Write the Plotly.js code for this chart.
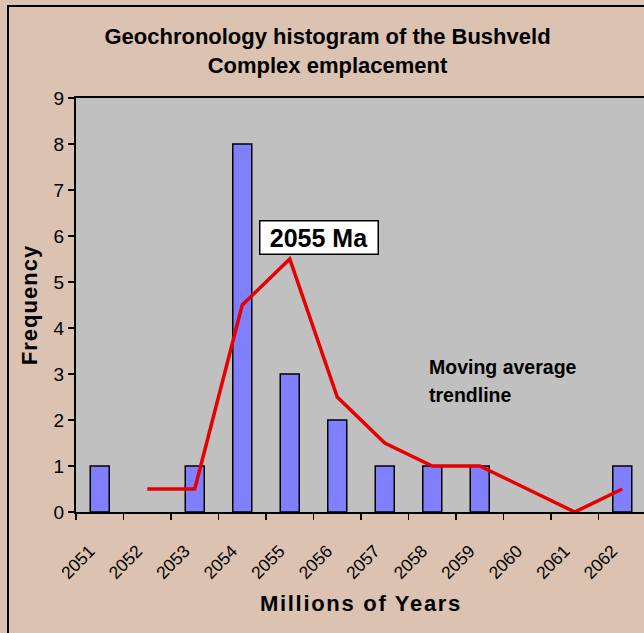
<!DOCTYPE html>
<html>
<head>
<meta charset="utf-8">
<script src="https://cdn.plot.ly/plotly-3.0.1.min.js"></script>
<style>
  html, body { margin: 0; padding: 0; overflow: hidden; background: #DCC3B1; width: 644px; height: 633px; }
  #frame { position: absolute; left: 7px; top: 5px; width: 800px; height: 800px; border: 2px solid #000; box-sizing: border-box; }
  #chart { position: absolute; left: 0; top: 0; width: 700px; height: 700px; }
  #chart .xtitle { letter-spacing: 1.7px; }
  #chart .ytitle { letter-spacing: 1px; }
</style>
</head>
<body>
<div id="frame"></div>
<div id="chart"></div>
<script>
// ---- data ----
const years = ['2051','2052','2053','2054','2055','2056','2057','2058','2059','2060','2061','2062'];
const counts = [1, 0, 1, 8, 3, 2, 1, 1, 1, 0, 0, 1];
const maYears = ['2052','2053','2054','2055','2056','2057','2058','2059','2060','2061','2062'];
const maValues = [0.5, 0.5, 4.5, 5.5, 2.5, 1.5, 1, 1, 0.5, 0, 0.5];
const yTicks = [0,1,2,3,4,5,6,7,8,9];

const FONT = 'Liberation Sans, Arial, sans-serif';
const W = 700, H = 700, ML = 76, MT = 98, PW = 570, PH = 414;
const px = x => (x - ML) / PW;
const py = y => (MT + PH - y) / PH;

const traces = [
  {
    type: 'bar', x: years, y: counts, width: 0.4,
    marker: { color: '#8080FF', line: { color: '#000', width: counts.map(c => (c > 0 ? 1.5 : 0)) } },
    hoverinfo: 'x+y', showlegend: false
  },
  {
    type: 'scatter', mode: 'lines', x: maYears, y: maValues,
    line: { color: '#E60000', width: 3.5 },
    showlegend: false
  }
];

const layout = {
  width: W, height: H,
  margin: { l: ML, r: W - ML - PW, t: MT, b: H - MT - PH },
  paper_bgcolor: 'rgba(0,0,0,0)',
  plot_bgcolor: '#C0C0C0',
  font: { family: FONT, color: '#000' },
  title: {
    text: '<b>Geochronology histogram of the Bushveld<br>Complex emplacement</b>',
    font: { size: 22, family: FONT, color: '#000' },
    xref: 'container', x: 327.5 / W, xanchor: 'center',
    yref: 'container', y: 1 - 44 / H, yanchor: 'top'
  },
  xaxis: {
    type: 'category', range: [-0.5, 11.5],
    categoryorder: 'array', categoryarray: years,
    showline: true, linecolor: '#000', linewidth: 2, mirror: true,
    layer: 'above traces',
    ticks: 'outside', tickson: 'boundaries', ticklen: 6, tickwidth: 1.5, tickcolor: '#000',
    tickangle: -45, tickfont: { size: 17.5, family: FONT, color: '#000' },
    ticklabelstandoff: 20, ticklabelshift: -10,
    showgrid: false, zeroline: false,
    title: { text: '<b>Millions of Years</b>', font: { size: 22, family: FONT, color: '#000' }, standoff: 14 }
  },
  yaxis: {
    range: [0, 9], tickvals: yTicks,
    showline: true, linecolor: '#000', linewidth: 2, mirror: true,
    ticks: 'outside', ticklen: 6, tickwidth: 1.5, tickcolor: '#000',
    tickfont: { size: 19, family: FONT, color: '#000' },
    showgrid: false, zeroline: false,
    title: { text: '<b>Frequency</b>', font: { size: 22, family: FONT, color: '#000' }, standoff: 10 }
  },
  annotations: [
    {
      xref: 'paper', yref: 'paper', x: px(318.5), y: py(238),
      xanchor: 'center', yanchor: 'middle', showarrow: false,
      text: '<b>2055 Ma</b>', font: { size: 25, family: FONT, color: '#000' },
      bgcolor: '#FFFFFF', bordercolor: '#000', borderwidth: 1.5, borderpad: 1,
      width: 115, height: 30
    },
    {
      xref: 'paper', yref: 'paper', x: px(427), y: py(367),
      xanchor: 'left', yanchor: 'middle', showarrow: false,
      text: '<b>Moving average</b>', font: { size: 19.5, family: FONT, color: '#000' }
    },
    {
      xref: 'paper', yref: 'paper', x: px(427), y: py(395),
      xanchor: 'left', yanchor: 'middle', showarrow: false,
      text: '<b>trendline</b>', font: { size: 19.5, family: FONT, color: '#000' }
    }
  ]
};

Plotly.newPlot('chart', traces, layout, { staticPlot: true, displayModeBar: false });
</script>
</body>
</html>
